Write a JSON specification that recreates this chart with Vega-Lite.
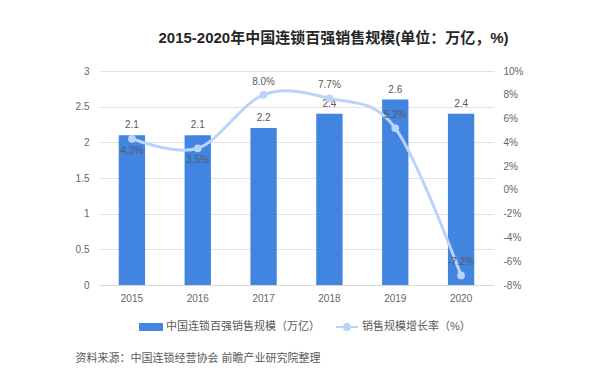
{
  "$schema": "https://vega.github.io/schema/vega-lite/v6.json",
  "width": 395,
  "height": 214,
  "autosize": "none",
  "padding": {"left": 99, "top": 71, "right": 106, "bottom": 105},
  "background": "white",
  "config": {
    "font": "Liberation Sans, Noto Sans CJK SC, sans-serif",
    "locale": {"number": {"decimal": ".", "thousands": ",", "grouping": [3], "currency": ["", ""], "minus": "-"}},
    "view": {"stroke": null},
    "axis": {"labelColor": "#666666", "labelFontSize": 10, "ticks": false, "domain": false}
  },
  "title": {
    "text": "2015-2020年中国连锁百强销售规模(单位：万亿，%)",
    "fontSize": 15,
    "fontWeight": "bold",
    "color": "#262626",
    "anchor": "middle",
    "dx": 37,
    "offset": 20
  },
  "data": {
    "values": [
      {"year": "2015", "sales": 2.1, "growth": 0.043},
      {"year": "2016", "sales": 2.1, "growth": 0.035},
      {"year": "2017", "sales": 2.2, "growth": 0.080},
      {"year": "2018", "sales": 2.4, "growth": 0.077},
      {"year": "2019", "sales": 2.6, "growth": 0.052},
      {"year": "2020", "sales": 2.4, "growth": -0.072}
    ]
  },
  "layer": [
    {
      "encoding": {
        "x": {
          "field": "year",
          "type": "ordinal",
          "scale": {"paddingInner": 0.6, "paddingOuter": 0.3},
          "axis": {
            "labelAngle": 0,
            "domain": true,
            "domainColor": "#d9d9d9",
            "labelPadding": 8,
            "title": "资料来源：中国连锁经营协会 前瞻产业研究院整理",
            "titleFontSize": 11,
            "titleFontWeight": "normal",
            "titleColor": "#595959",
            "titleAnchor": "start",
            "titleAlign": "left",
            "titleBaseline": "middle",
            "titleX": -24,
            "titleY": 73
          }
        },
        "y": {
          "field": "sales",
          "type": "quantitative",
          "scale": {"domain": [0, 3]},
          "axis": {
            "values": [0, 0.5, 1, 1.5, 2, 2.5, 3],
            "format": "~g",
            "title": null,
            "grid": true,
            "gridColor": "#e3e3e3",
            "labelPadding": 10
          }
        }
      },
      "layer": [
        {
          "mark": {"type": "bar"},
          "encoding": {
            "color": {
              "datum": "中国连锁百强销售规模（万亿）",
              "scale": {
                "domain": ["中国连锁百强销售规模（万亿）", "销售规模增长率（%）"],
                "range": ["#4185e0", "#b9d3f9"]
              },
              "legend": {
                "orient": "none",
                "legendX": 41,
                "legendY": 245,
                "direction": "horizontal",
                "title": null,
                "labelFontSize": 11,
                "labelColor": "#595959",
                "symbolSize": 400,
                "columnPadding": 12,
                "labelOffset": 4,
                "encode": {
                  "symbols": {
                    "update": {
                      "shape": {"signal": "datum.value === '中国连锁百强销售规模（万亿）' ? 'M-1.1,-0.3H1.1V0.3H-1.1Z' : 'M-1.1,0H1.1M-0.3,0A0.3,0.3 0 1,0 0.3,0A0.3,0.3 0 1,0 -0.3,0Z'"},
                      "fill": {"scale": "color", "field": "value"},
                      "stroke": {"scale": "color", "field": "value"},
                      "strokeWidth": {"value": 2},
                      "opacity": {"value": 1}
                    }
                  }
                }
              }
            }
          }
        },
        {
          "mark": {"type": "text", "baseline": "bottom", "dy": -5, "fontSize": 10, "color": "#595959"},
          "encoding": {"text": {"field": "sales", "type": "quantitative", "format": ".1f"}}
        }
      ]
    },
    {
      "encoding": {
        "x": {"field": "year", "type": "ordinal"},
        "y": {
          "field": "growth",
          "type": "quantitative",
          "scale": {"domain": [-0.08, 0.1]},
          "axis": {
            "orient": "right",
            "values": [-0.08, -0.06, -0.04, -0.02, 0, 0.02, 0.04, 0.06, 0.08, 0.1],
            "format": ".0%",
            "title": null,
            "grid": false,
            "labelPadding": 9
          }
        }
      },
      "layer": [
        {
          "mark": {
            "type": "line",
            "interpolate": "cardinal",
            "strokeWidth": 3,
            "point": {"filled": true, "size": 60}
          },
          "encoding": {"color": {"datum": "销售规模增长率（%）"}}
        },
        {
          "transform": [{"filter": "datum.year <= '2016'"}],
          "mark": {"type": "text", "baseline": "top", "dy": 7, "fontSize": 10, "color": "#595959"},
          "encoding": {"text": {"field": "growth", "type": "quantitative", "format": ".1%"}}
        },
        {
          "transform": [{"filter": "datum.year > '2016'"}],
          "mark": {"type": "text", "baseline": "bottom", "dy": -8, "fontSize": 10, "color": "#595959"},
          "encoding": {"text": {"field": "growth", "type": "quantitative", "format": ".1%"}}
        }
      ]
    }
  ],
  "resolve": {"scale": {"y": "independent"}}
}
